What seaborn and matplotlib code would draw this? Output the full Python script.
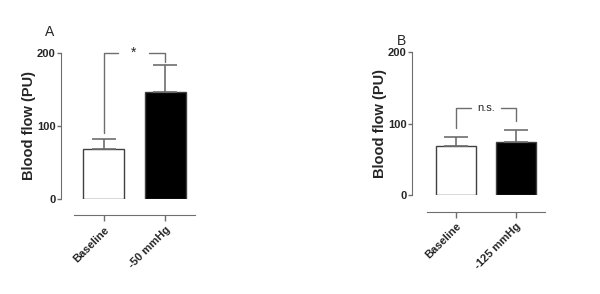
import matplotlib
matplotlib.use("Agg")
import matplotlib.pyplot as plt
import seaborn as sns

# values (mean, upper SEM end)
labels_a = ["Baseline", "-50 mmHg"]
means_a = [68, 147]
err_a = [14, 37]

labels_b = ["Baseline", "-125 mmHg"]
means_b = [68.5, 75]
err_b = [13.5, 16]

yticks = [0, 100, 200]

GRAY = "#6e6e6e"
FONT = "Liberation Sans"

sns.set_style("white")
plt.rcParams["font.family"] = [FONT, "DejaVu Sans"]

fig = plt.figure(figsize=(6, 2.94), dpi=100)
ax_a = fig.add_axes([61 / 600, 95 / 294, 134 / 600, 146 / 294])
ax_b = fig.add_axes([412 / 600, 98.7 / 294, 133 / 600, 143 / 294])


def panel(ax, labels, means, errs, xleft):
    sns.barplot(x=labels, y=means, hue=labels, palette=["white", "black"],
                edgecolor="#404040", linewidth=1.0, width=0.67,
                legend=False, ax=ax)
    ax.errorbar([0, 1], means, yerr=[[0, 0], errs], fmt="none",
                ecolor=GRAY, elinewidth=1.2, capsize=8.5, capthick=1.2,
                zorder=1)
    ax.set_xlim(xleft, 1.49)
    ax.set_ylim(0, 200)
    ax.set_yticks(yticks)
    ax.set_yticklabels([str(t) for t in yticks], fontweight="bold",
                       fontsize=8)
    ax.tick_params(axis="y", length=3, width=1, color=GRAY, pad=1, left=True)
    ax.tick_params(axis="x", length=4, width=1, color=GRAY, pad=3,
                   bottom=True, labelrotation=45, labelsize=8)
    for side in ["top", "right"]:
        ax.spines[side].set_visible(False)
    ax.spines["left"].set_color(GRAY)
    ax.spines["left"].set_bounds(0, 200)
    ax.spines["bottom"].set_color(GRAY)
    ax.spines["bottom"].set_position(("outward", 11.7))
    ax.spines["bottom"].set_bounds(-0.49, 1.49)
    ax.set_ylabel("Blood flow (PU)", fontweight="bold", fontsize=10.5,
                  labelpad=0.5)
    ax.set_xlabel("")
    ax.patch.set_alpha(0)


def bracket(ax, y_left, y_top, y_right, x_gap_l, x_gap_r, text, size):
    kw = dict(color=GRAY, lw=1.0, clip_on=False)
    ax.plot([0, 0, x_gap_l], [y_left, y_top, y_top], **kw)
    ax.plot([x_gap_r, 1, 1], [y_top, y_top, y_right], **kw)
    ax.text((x_gap_l + x_gap_r) / 2, y_top, text, ha="center", va="center",
            fontsize=size, clip_on=False)


panel(ax_a, labels_a, means_a, err_a, -0.70)
panel(ax_b, labels_b, means_b, err_b, -0.737)

bracket(ax_a, 91, 200, 188, 0.23, 0.74, "*", 10)
bracket(ax_b, 94, 121.7, 104, 0.25, 0.75, "n.s.", 8)

fig.text(50 / 600, 1 - 32 / 294, "A", fontsize=10, ha="center", va="center")
fig.text(402 / 600, 1 - 41 / 294, "B", fontsize=10, ha="center",
         va="center")

fig.canvas.draw()
for ax in (ax_a, ax_b):
    plt.setp(ax.get_xticklabels(), rotation=45, ha="right",
             rotation_mode="anchor", fontweight="bold", fontsize=8)

fig.savefig("out.png", dpi=100)
